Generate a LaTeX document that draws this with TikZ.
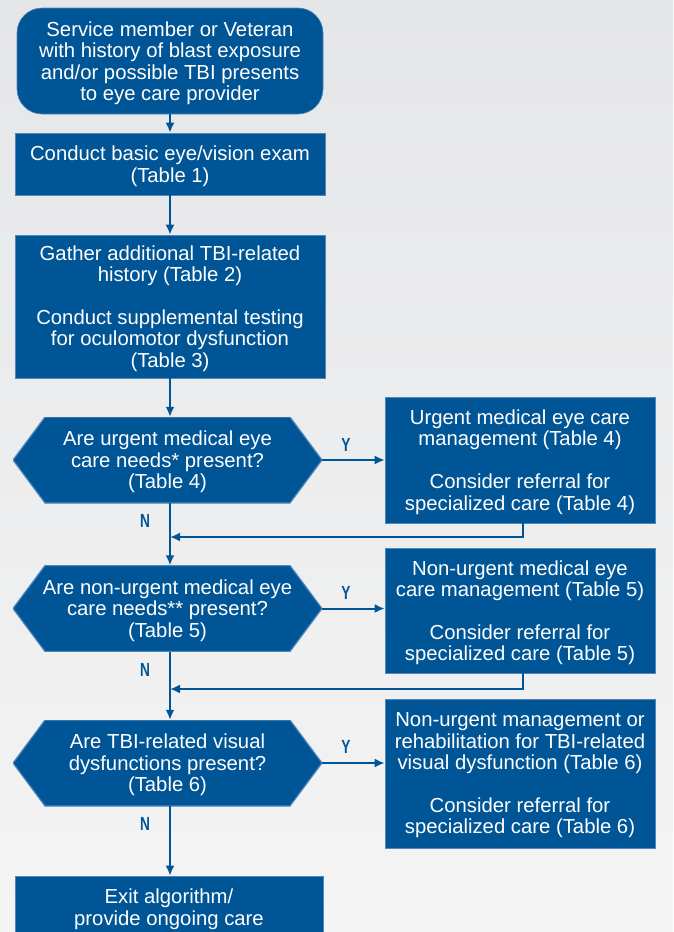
\documentclass[tikz,border=0pt]{standalone}
\usepackage{fontspec}
\setmainfont{Liberation Sans}
\newfontfamily\ynfont[FakeStretch=0.72]{Liberation Sans}
\usetikzlibrary{arrows.meta}

\definecolor{vablue}{HTML}{005596}
\definecolor{vaedge}{HTML}{4F86BC}
\definecolor{bgtop}{HTML}{E5E6E8}
\definecolor{bgbottom}{HTML}{F4F4F4}

\tikzset{
  every node/.style={font=\fontsize{20.3}{21.4}\selectfont, text=white, align=center},
  boxtext/.style={text depth=-5.5pt},
  startbox/.style={boxtext, rectangle, rounded corners=25pt, fill=vablue, draw=vaedge, line width=0.6pt,
    minimum width=306pt, minimum height=106pt, inner sep=0pt},
  stepbox/.style={boxtext, rectangle, fill=vablue, draw=vaedge, line width=0.6pt, inner sep=0pt},
  decision/.style={boxtext, rectangle, inner sep=0pt, minimum width=309pt, minimum height=86pt,
    path picture={\fill[vablue, draw=vaedge, line width=1.2pt]
      (path picture bounding box.west)
      -- ([xshift=32pt]path picture bounding box.north west)
      -- ([xshift=-32pt]path picture bounding box.north east)
      -- (path picture bounding box.east)
      -- ([xshift=-32pt]path picture bounding box.south east)
      -- ([xshift=32pt]path picture bounding box.south west) -- cycle;}},
  yn/.style={font=\ynfont\bfseries\fontsize{19}{19}\selectfont, text=vablue},
  flow/.style={vablue, line width=2pt, -{Latex[length=10pt,width=9pt]}},
}

\begin{document}
\begin{tikzpicture}[x=1pt, y=-1pt]
  % background
  \shade[top color=bgtop, bottom color=bgbottom] (0,0) rectangle (673,932);
  \useasboundingbox (0,0) rectangle (673,932);

  % main column
  \node[startbox] (start) at (170,61) {Service member or Veteran\\with history of blast exposure\\and/or possible TBI presents\\to eye care provider};
  \node[stepbox, minimum width=310pt, minimum height=62pt] (exam) at (170,164) {Conduct basic eye/vision exam\\(Table 1)};
  \node[stepbox, minimum width=310pt, minimum height=143pt] (history) at (170,306.5) {Gather additional TBI-related\\history (Table 2)\\[21.4pt]Conduct supplemental testing\\for oculomotor dysfunction\\(Table 3)};
  \node[decision] (urgent) at (167.5,460) {Are urgent medical eye\\care needs* present?\\(Table 4)};
  \node[decision] (nonurgent) at (167.5,608.5) {Are non-urgent medical eye\\care needs** present?\\(Table 5)};
  \node[decision] (visual) at (167.5,763) {Are TBI-related visual\\dysfunctions present?\\(Table 6)};
  \node[stepbox, minimum width=308pt, minimum height=62pt] (exit) at (169,907) {Exit algorithm/\\provide ongoing care};

  % right column
  \node[stepbox, minimum width=270pt, minimum height=126pt] (urgentcare) at (520,460) {Urgent medical eye care\\management (Table 4)\\[21.4pt]Consider referral for\\specialized care (Table 4)};
  \node[stepbox, minimum width=270pt, minimum height=125pt] (nonurgentcare) at (520,610.5) {Non-urgent medical eye\\care management (Table 5)\\[21.4pt]Consider referral for\\specialized care (Table 5)};
  \node[stepbox, minimum width=270pt, minimum height=149pt] (rehab) at (520,773.5) {Non-urgent management or\\rehabilitation for TBI-related\\visual dysfunction (Table 6)\\[21.4pt]Consider referral for\\specialized care (Table 6)};

  % joins on the main line
  \coordinate (join1) at (170,537);
  \coordinate (join2) at (170,689);

  % arrows down
  \draw[flow] (start) -- (exam);
  \draw[flow] (exam) -- (history);
  \draw[flow] (history.south) -- (history.south |- urgent.north);
  \draw[flow] (history.south |- urgent.south) -- (history.south |- nonurgent.north);
  \draw[flow] (history.south |- nonurgent.south) -- (history.south |- visual.north);
  \draw[flow] (history.south |- visual.south) -- (history.south |- exit.north);

  % yes branches
  \draw[flow] (urgent.east) -- (urgentcare.west);
  \draw[flow] (nonurgent.east) -- (nonurgent.east -| nonurgentcare.west);
  \draw[flow] (visual.east) -- (visual.east -| rehab.west);

  % back to the main line
  \draw[flow] ([xshift=3pt]urgentcare.south) |- (join1);
  \draw[flow] ([xshift=3pt]nonurgentcare.south) |- (join2);

  % Y / N labels
  \node[yn] (y1) at (346,445) {Y};
  \node[yn] (y2) at (346,593) {Y};
  \node[yn] (y3) at (346,747) {Y};
  \node[yn] (n1) at (145,521) {N};
  \node[yn] (n2) at (145,670) {N};
  \node[yn] (n3) at (145,824) {N};
\end{tikzpicture}
\end{document}
